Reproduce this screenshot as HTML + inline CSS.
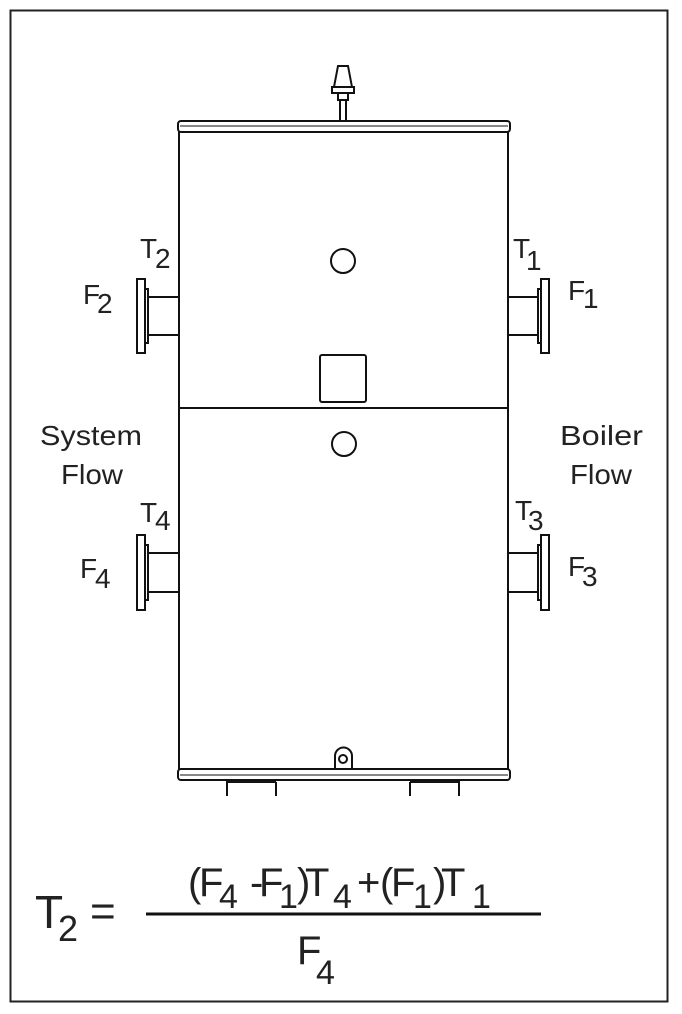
<!DOCTYPE html>
<html><head><style>html,body{margin:0;padding:0;background:#fff}svg{display:block}</style></head>
<body>
<svg width="682" height="1014" viewBox="0 0 682 1014" xmlns="http://www.w3.org/2000/svg" font-family="Liberation Sans, sans-serif" fill="#222">
<rect x="0" y="0" width="682" height="1014" fill="#fff"/>
<rect x="10.5" y="10.5" width="657" height="991" fill="none" stroke="#222" stroke-width="2"/>
<g fill="none" stroke="#111" stroke-width="2">
<line x1="340" y1="100" x2="340" y2="121"/><line x1="346" y1="100" x2="346" y2="121"/>
<rect x="338" y="93" width="10" height="7"/>
<rect x="332" y="87" width="22" height="6"/>
<path d="M334 87 L338 66 L348 66 L352 87"/>
<rect x="178" y="121" width="332" height="11" rx="3"/>
<line x1="180" y1="126" x2="508" y2="126" stroke-width="1"/>
<line x1="179" y1="132" x2="179" y2="770"/>
<line x1="508" y1="132" x2="508" y2="770"/>
<line x1="179" y1="408" x2="508" y2="408"/>
<rect x="178" y="769" width="332" height="11" rx="3"/>
<line x1="180" y1="775" x2="508" y2="775" stroke-width="1"/>
<path d="M227 796 V780 M276 796 V782 M227 782 H276"/>
<path d="M410 796 V782 M459 796 V780 M410 782 H459"/>
<circle cx="343" cy="261" r="12"/>
<circle cx="344" cy="444" r="12"/>
<rect x="320" y="355" width="46" height="47" rx="2"/>
<path d="M335 769 V756 A8 8 0 0 1 352 756 V769"/>
<circle cx="343" cy="759" r="4"/>
<rect x="137" y="279" width="8" height="74"/><rect x="145" y="289" width="3" height="54"/>
<rect x="148" y="297" width="31" height="38"/>
<rect x="137" y="535" width="8" height="75"/><rect x="145" y="545" width="3" height="55"/>
<rect x="148" y="553" width="31" height="39"/>
<rect x="541" y="279" width="8" height="74"/><rect x="538" y="289" width="3" height="54"/>
<rect x="508" y="297" width="30" height="38"/>
<rect x="541" y="535" width="8" height="75"/><rect x="538" y="545" width="3" height="55"/>
<rect x="508" y="553" width="30" height="39"/>
</g>
<g font-size="28">
<text x="140" y="258">T</text><text x="155" y="268">2</text>
<text x="513" y="258">T</text><text x="526" y="270">1</text>
<text x="83" y="304">F</text><text x="97" y="313">2</text>
<text x="568" y="300">F</text><text x="583" y="308">1</text>
<text x="140" y="522">T</text><text x="155" y="530">4</text>
<text x="515" y="520">T</text><text x="528" y="530">3</text>
<text x="80" y="578">F</text><text x="95" y="588">4</text>
<text x="568" y="576">F</text><text x="582" y="586">3</text>
<text x="40" y="445" textLength="102" lengthAdjust="spacingAndGlyphs">System</text>
<text x="61" y="484" textLength="62" lengthAdjust="spacingAndGlyphs">Flow</text>
<text x="560" y="445" textLength="83" lengthAdjust="spacingAndGlyphs">Boiler</text>
<text x="570" y="484" textLength="62" lengthAdjust="spacingAndGlyphs">Flow</text>
</g>
<g font-size="40">
<text x="35" y="928" font-size="46">T</text><text x="58" y="941" font-size="36">2</text>
<text x="90" y="926" font-size="44">=</text>
<text x="188" y="896">(</text>
<text x="199" y="896">F</text>
<text x="219" y="908" font-size="34">4</text>
<text x="250" y="896">-</text>
<text x="259" y="896">F</text>
<text x="279" y="908" font-size="34">1</text>
<text x="297" y="896">)</text>
<text x="305" y="896">T</text>
<text x="333" y="908" font-size="34">4</text>
<text x="357" y="896">+</text>
<text x="380" y="896">(</text>
<text x="391" y="896">F</text>
<text x="413" y="908" font-size="34">1</text>
<text x="433" y="896">)</text>
<text x="441" y="896">T</text>
<text x="472" y="908" font-size="34">1</text>
<text x="297" y="964">F</text><text x="316" y="984" font-size="34">4</text>
</g>
<line x1="146" y1="914" x2="541" y2="914" stroke="#111" stroke-width="3"/>
</svg>
</body></html>
